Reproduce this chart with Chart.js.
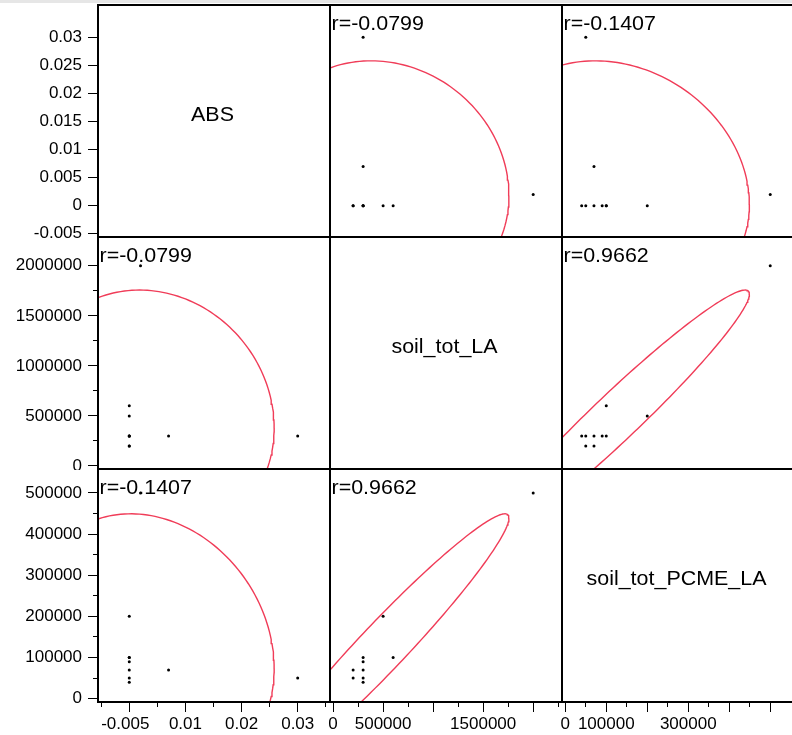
<!DOCTYPE html>
<html>
<head>
<meta charset="utf-8">
<title>Scatterplot matrix</title>
<script src="https://cdn.jsdelivr.net/npm/chart.js@4.4.1/dist/chart.umd.min.js"></script>
<style>
  html, body { margin: 0; padding: 0; background: #fff; }
  body { width: 792px; height: 735px; position: relative; overflow: hidden; }
  .topbar { position: absolute; left: 0; top: 0; width: 792px; height: 3px; background: #e6e6e6; }
  canvas { position: absolute; }
</style>
</head>
<body>
<div class="topbar"></div>
<div id="grid"></div>
<script>
// Variables (one value per sample)
const varNames = ['ABS', 'soil_tot_LA', 'soil_tot_PCME_LA'];
const absValues = [0.002, 0, 0, 0, 0.03, 0.007, 0, 0, 0, 0];
const laValues = [2000000, 600000, 500000, 300000, 300000, 300000, 300000, 300000, 200000, 200000];
const pcmeValues = [500000, 100000, 200000, 40000, 50000, 70000, 90000, 100000, 50000, 70000];

// Correlations printed in the cells: pairs (ABS,LA), (ABS,PCME), (LA,PCME)
const corrText = ['r=-0.0799', 'r=-0.1407', 'r=0.9662'];

// Axis ranges
const absRange = [-0.00557, 0.03575];
const laRange = [-31000, 2288000];
const pcmeRange = [-8000, 558000];

// Tick values and labels
const absTicksY = [-0.005, 0, 0.005, 0.01, 0.015, 0.02, 0.025, 0.03];
const absLabelsY = ['-0.005', '0', '0.005', '0.01', '0.015', '0.02', '0.025', '0.03'];
const absTicksX = [-0.005, 0, 0.005, 0.01, 0.015, 0.02, 0.025, 0.03, 0.035];
const absLabelsX = ['-0.005', '', '', '0.01', '', '0.02', '', '0.03', ''];

const laTicksY = [0, 250000, 500000, 750000, 1000000, 1250000, 1500000, 1750000, 2000000];
const laLabelsY = ['0', '', '500000', '', '1000000', '', '1500000', '', '2000000'];
const laTicksX = [0, 250000, 500000, 750000, 1000000, 1250000, 1500000, 1750000, 2000000, 2250000];
const laLabelsX = ['0', '', '500000', '', '', '', '1500000', '', '', ''];

const pcmeTicksY = [0, 50000, 100000, 150000, 200000, 250000, 300000, 350000, 400000, 450000, 500000];
const pcmeLabelsY = ['0', '', '100000', '', '200000', '', '300000', '', '400000', '', '500000'];
const pcmeTicksX = [0, 50000, 100000, 150000, 200000, 250000, 300000, 350000, 400000, 450000, 500000];
const pcmeLabelsX = ['0', '', '100000', '', '', '', '300000', '', '', '', ''];

const values = [absValues, laValues, pcmeValues];
const axes = [
  { range: absRange, y: [absTicksY, absLabelsY, 0.005], x: [absTicksX, absLabelsX, 0.01] },
  { range: laRange, y: [laTicksY, laLabelsY, 500000], x: [laTicksX, laLabelsX, 500000] },
  { range: pcmeRange, y: [pcmeTicksY, pcmeLabelsY, 100000], x: [pcmeTicksX, pcmeLabelsX, 100000] }
];

// cell boundaries on the page
const colEdges = [98, 330, 562, 794];
const rowEdges = [5, 237, 469, 702];
const pageH = 735;

const FONT = '"Liberation Sans", Arial, Helvetica, sans-serif';
const RED = '#f03c58';

function corrFor(a, b) {
  const key = Math.min(a, b) + Math.max(a, b) - 1; // (0,1)->0, (0,2)->1, (1,2)->2
  return corrText[key];
}

// 95% bivariate normal density ellipse from the data
function densityEllipse(xs, ys) {
  const n = xs.length;
  const mx = xs.reduce((s, v) => s + v, 0) / n;
  const my = ys.reduce((s, v) => s + v, 0) / n;
  let sxx = 0, syy = 0, sxy = 0;
  for (let i = 0; i < n; i++) {
    const dx = xs[i] - mx, dy = ys[i] - my;
    sxx += dx * dx; syy += dy * dy; sxy += dx * dy;
  }
  sxx /= n; syy /= n; sxy /= n;
  const k = Math.sqrt(5.991);
  const l11 = Math.sqrt(sxx);
  const l21 = sxy / l11;
  const l22 = Math.sqrt(Math.max(syy - l21 * l21, 0));
  const pts = [];
  for (let j = 0; j <= 200; j++) {
    const t = 2 * Math.PI * j / 200;
    const c = Math.cos(t), s = Math.sin(t);
    pts.push({ x: mx + k * l11 * c, y: my + k * (l21 * c + l22 * s) });
  }
  return pts;
}

// black frame round each cell
const cellFrame = {
  id: 'cellFrame',
  afterDraw(chart) {
    const { ctx, chartArea: a } = chart;
    ctx.save();
    ctx.strokeStyle = '#000';
    ctx.lineWidth = 2;
    ctx.strokeRect(a.left, a.top, a.right - a.left, a.bottom - a.top);
    ctx.restore();
  }
};

// r= text in the corner, variable name on the diagonal
const cellText = {
  id: 'cellText',
  afterDatasetsDraw(chart, args, opts) {
    const { ctx, chartArea: a } = chart;
    ctx.save();
    ctx.fillStyle = '#000';
    ctx.font = '19.5px ' + FONT;
    ctx.textBaseline = 'alphabetic';
    if (opts.corner) {
      ctx.save();
      ctx.translate(a.left + 1.5, a.top + 24.5);
      ctx.scale(1.1, 1);
      ctx.textAlign = 'left';
      ctx.fillText(opts.corner, 0, 0);
      ctx.restore();
    }
    if (opts.center) {
      ctx.save();
      ctx.translate((a.left + a.right) / 2 - 1.5, a.top + 115.5);
      ctx.scale(1.1, 1);
      ctx.textAlign = 'center';
      ctx.fillText(opts.center, 0, 0);
      ctx.restore();
    }
    ctx.restore();
  }
};

function isMajor(v, step) {
  const q = v / step;
  return Math.abs(q - Math.round(q)) < 1e-6;
}

function makeAxis(v, dir, show) {
  const spec = axes[v];
  const [tickVals, tickLabels, majorStep] = spec[dir];
  const vertical = dir === 'y';
  return {
    type: 'linear',
    position: vertical ? 'left' : 'bottom',
    display: show,
    min: spec.range[0],
    max: spec.range[1],
    afterBuildTicks: s => { s.ticks = tickVals.map(t => ({ value: t })); },
    afterFit: s => {
      if (show) {
        if (vertical) s.width = colEdges[0];
        else s.height = pageH - rowEdges[3];
      } else {
        s.width = 0; s.height = 0;
      }
      s.paddingLeft = 0; s.paddingRight = 0; s.paddingTop = 0; s.paddingBottom = 0;
    },
    ticks: {
      autoSkip: false,
      maxRotation: 0,
      minRotation: 0,
      color: '#000',
      font: { family: FONT, size: 17 },
      padding: vertical ? 6 : 2,
      align: (!vertical && v === 0) ? 'inner' : 'center',
      callback: (val, i) => tickLabels[i]
    },
    grid: {
      drawOnChartArea: false,
      color: '#000',
      tickColor: '#000',
      tickLength: 10,
      tickWidth: 1,
      tickBorderDash: c => isMajor(c.tick.value, majorStep) ? [] : [5, 5],
      tickBorderDashOffset: c => (vertical && !isMajor(c.tick.value, majorStep)) ? 5 : 0
    },
    border: { display: false }
  };
}

const grid = document.getElementById('grid');

for (let r = 0; r < 3; r++) {
  for (let c = 0; c < 3; c++) {
    const left = c === 0 ? 0 : colEdges[c] - 1;
    const top = rowEdges[r] - 1;
    const right = colEdges[c + 1] + 1;
    const bottom = r === 2 ? pageH : rowEdges[r + 1] + 1;

    const canvas = document.createElement('canvas');
    canvas.width = right - left;
    canvas.height = bottom - top;
    canvas.style.left = left + 'px';
    canvas.style.top = top + 'px';
    grid.appendChild(canvas);

    const datasets = [];
    if (r !== c) {
      const xs = values[c], ys = values[r];
      datasets.push({
        data: xs.map((x, i) => ({ x: x, y: ys[i] })),
        pointRadius: 1.5,
        pointBackgroundColor: '#000',
        pointBorderWidth: 0,
        showLine: false
      });
      datasets.push({
        data: densityEllipse(xs, ys),
        showLine: true,
        pointRadius: 0,
        borderColor: RED,
        borderWidth: 1.4,
        fill: false,
        tension: 0,
        clip: 0
      });
    }

    new Chart(canvas, {
      type: 'scatter',
      data: { datasets: datasets },
      options: {
        responsive: false,
        animation: false,
        events: [],
        layout: {
          autoPadding: false,
          padding: { left: c === 0 ? 0 : 1, right: 1, top: 1, bottom: r === 2 ? 0 : 1 }
        },
        scales: {
          x: makeAxis(c, 'x', r === 2),
          y: makeAxis(r, 'y', c === 0)
        },
        plugins: {
          legend: { display: false },
          tooltip: { enabled: false },
          cellText: {
            corner: r !== c ? corrFor(r, c) : null,
            center: r === c ? varNames[r] : null
          }
        }
      },
      plugins: [cellFrame, cellText]
    });
  }
}
</script>
</body>
</html>
